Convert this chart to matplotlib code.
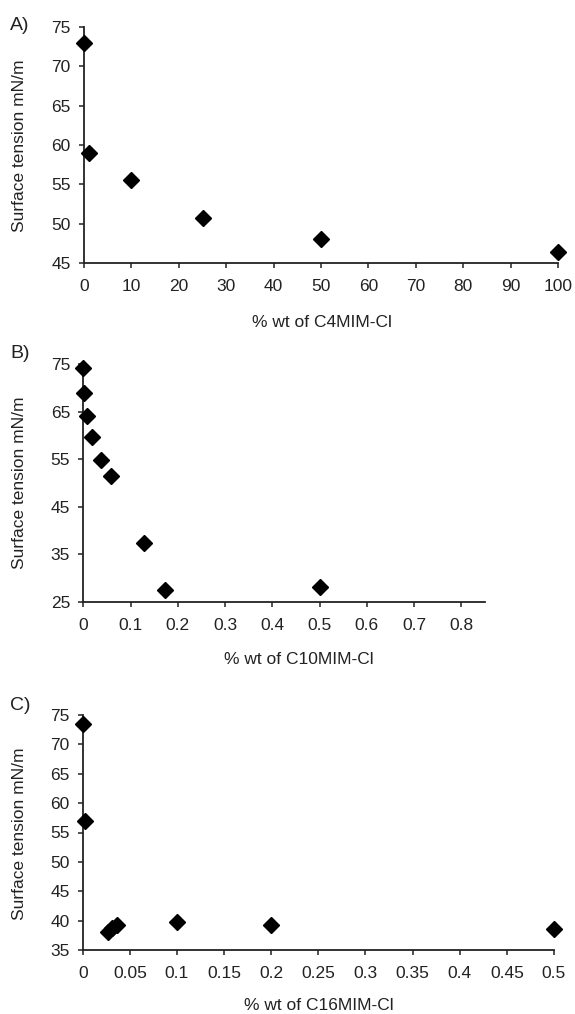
import matplotlib
matplotlib.use("Agg")
import matplotlib.pyplot as plt
import numpy as np

plt.rcParams['font.family'] = ['Liberation Sans', 'DejaVu Sans']

# Panel A: C4MIM-Cl
a_x = [0, 1, 10, 25, 50, 100]
a_y = [73.0, 59.0, 55.6, 50.7, 48.1, 46.4]
a_xticks = list(range(0, 101, 10))
a_yticks = list(range(45, 76, 5))

# Panel B: C10MIM-Cl
b_x = [0.0, 0.002, 0.008, 0.019, 0.037, 0.058, 0.129, 0.173, 0.5]
b_y = [74.1, 69.0, 64.1, 59.6, 54.9, 51.5, 37.3, 27.4, 28.1]
b_xticks = [0, 0.1, 0.2, 0.3, 0.4, 0.5, 0.6, 0.7, 0.8]
b_xticklabels = ['0', '0.1', '0.2', '0.3', '0.4', '0.5', '0.6', '0.7', '0.8']
b_yticks = list(range(25, 76, 10))

# Panel C: C16MIM-Cl
c_x = [0.0, 0.002, 0.027, 0.031, 0.036, 0.1, 0.2, 0.5]
c_y = [73.5, 57.0, 38.1, 38.7, 39.3, 39.8, 39.3, 38.5]
c_xticks = [0, 0.05, 0.1, 0.15, 0.2, 0.25, 0.3, 0.35, 0.4, 0.45, 0.5]
c_xticklabels = ['0', '0.05', '0.1', '0.15', '0.2', '0.25', '0.3', '0.35', '0.4', '0.45', '0.5']
c_yticks = list(range(35, 76, 5))

W, H = 575, 1014
fig = plt.figure(figsize=(W / 100, H / 100), dpi=100)


def box(l, r, t, b):
    return [l / W, 1 - b / H, (r - l) / W, (b - t) / H]


FS = 12.5


def style(ax, xlim, ylim, xticks, yticks, xtl=None):
    ax.set_xlim(*xlim)
    ax.set_ylim(*ylim)
    ax.set_xticks(xticks)
    if xtl is not None:
        ax.set_xticklabels(xtl)
    ax.set_yticks(yticks)
    for s in ['top', 'right']:
        ax.spines[s].set_visible(False)
    for s in ['left', 'bottom']:
        ax.spines[s].set_linewidth(1.3)
        ax.spines[s].set_color('#222222')
    ax.tick_params(direction='out', length=3.5, width=1.1, colors='#222222',
                   labelsize=FS, labelcolor='#222222')
    ax.tick_params(axis='x', pad=8)
    ax.tick_params(axis='y', pad=6)
    ax.patch.set_alpha(0)


mk = dict(marker='D', ms=8, color='black', linestyle='none', clip_on=False, zorder=5)

axA = fig.add_axes(box(84, 558, 27, 263))
axA.plot(a_x, a_y, **mk)
style(axA, (0, 100), (45, 75), a_xticks, a_yticks)

axB = fig.add_axes(box(83.3, 485, 364, 601.7))
axB.plot(b_x, b_y, **mk)
style(axB, (0, 0.85), (25, 75), b_xticks, b_yticks, b_xticklabels)

axC = fig.add_axes(box(82.7, 554, 715, 950))
axC.plot(c_x, c_y, **mk)
style(axC, (0, 0.5), (35, 75), c_xticks, c_yticks, c_xticklabels)

tc = '#222222'
# Panel labels
fig.text(20 / W, 1 - 25 / H, 'A)', fontsize=14, ha='center', va='center', color=tc)
fig.text(20 / W, 1 - 354 / H, 'B)', fontsize=14, ha='center', va='center', color=tc)
fig.text(20 / W, 1 - 706 / H, 'C)', fontsize=14, ha='center', va='center', color=tc)

# y labels
for yc in (146, 483, 834):
    fig.text(20 / W, 1 - yc / H, 'Surface tension mN/m', rotation=90, fontsize=FS,
             ha='center', va='center', color=tc)

# x labels
fig.text(322 / W, 1 - 322 / H, '% wt of C4MIM-Cl', fontsize=FS, ha='center', va='center', color=tc)
fig.text(299 / W, 1 - 660 / H, '% wt of C10MIM-Cl', fontsize=FS, ha='center', va='center', color=tc)
fig.text(319 / W, 1 - 1005 / H, '% wt of C16MIM-Cl', fontsize=FS, ha='center', va='center', color=tc)

fig.savefig('out.png', dpi=100)
